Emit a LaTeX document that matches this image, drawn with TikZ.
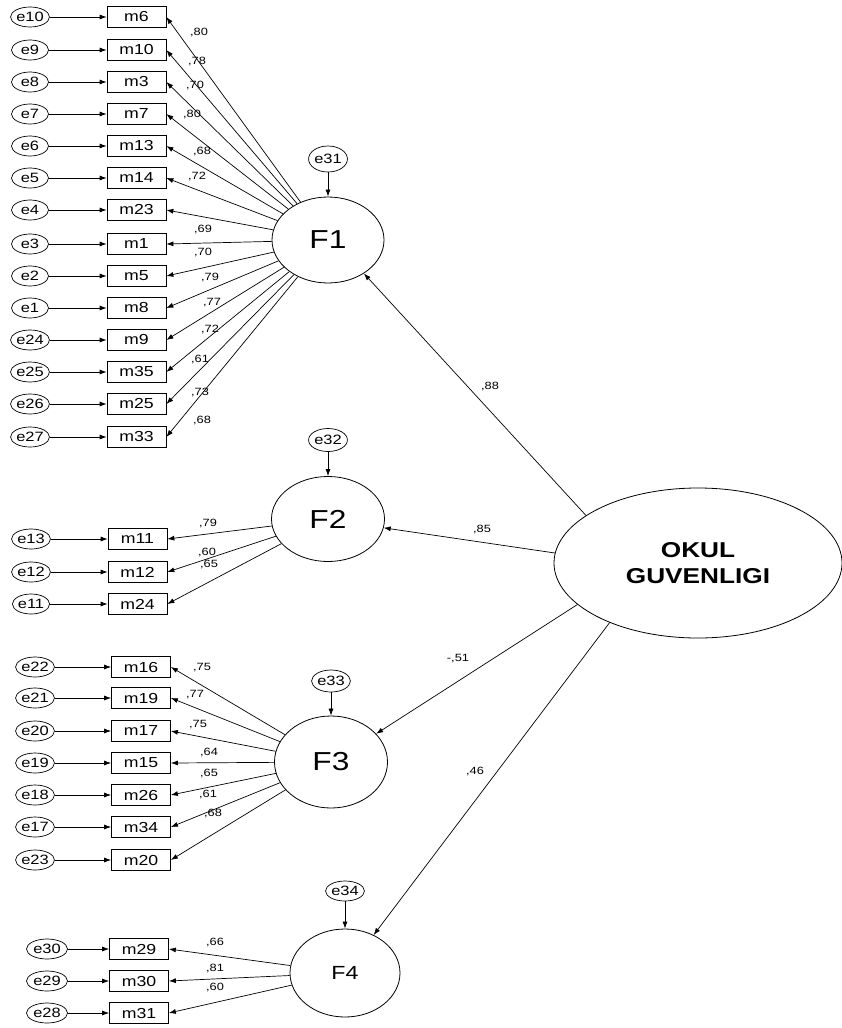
\documentclass[tikz,border=0pt]{standalone}
\usepackage{fontspec}
\setmainfont{Liberation Sans}[FakeStretch=1.22]
\usetikzlibrary{arrows.meta,shapes.geometric}

\begin{document}
\begin{tikzpicture}[x=1pt,y=-1pt,
		arr/.style={-{Latex[length=7pt,width=5pt]}, line width=0.7pt},
		err/.style={draw, ellipse, line width=0.7pt, minimum width=37pt, minimum height=20pt, inner sep=0pt, font=\fontsize{13.5}{15}\selectfont},
		obs/.style={draw, rectangle, line width=0.7pt, minimum width=59pt, minimum height=21pt, inner sep=0pt, font=\fontsize{14.5}{16}\selectfont},
		lat/.style={draw, ellipse, line width=0.8pt, inner sep=0pt, font=\fontsize{26}{30}\selectfont},
		coef/.style={inner sep=0pt, font=\fontsize{10.5}{12}\selectfont}]
	\useasboundingbox (0,0) rectangle (842,1028);
	% latent factors
	\node[lat, minimum width=112pt, minimum height=86pt] (F1) at (328,240) {F1};
	\node[lat, minimum width=113pt, minimum height=85pt] (F2) at (328,519) {F2};
	\node[lat, minimum width=113pt, minimum height=92pt] (F3) at (331,762) {F3};
	\node[lat, minimum width=110pt, minimum height=88pt, font=\fontsize{19}{22}\selectfont] (F4) at (345,973) {F4};
	\node[lat, minimum width=288pt, minimum height=150pt, align=center, font=\bfseries\fontsize{21.5}{26}\selectfont] (OK) at (698,563) {OKUL\\GUVENLIGI};
	% disturbances
	\node[err, minimum width=35pt, minimum height=26pt] (e31) at (328,159) {e31};
	\node[err, minimum width=35pt, minimum height=23pt] (e32) at (328,440) {e32};
	\node[err, minimum height=22pt] (e33) at (331,681) {e33};
	\node[err, minimum height=20pt] (e34) at (345,891) {e34};
	\draw[arr] (e31) -- (F1);
	\draw[arr] (e32) -- (F2);
	\draw[arr] (e33) -- (F3);
	\draw[arr] (e34) -- (F4);
	% second order paths
	\draw[arr] (OK.157.5) -- (F1.-43);
	\draw[arr] (OK.176) -- (F2.-9);
	\draw[arr] (OK.199) -- (F3.32.5);
	\draw[arr] (OK.214) -- (F4.53);
	\node[coef] (c88) at (490,386) {,88};
	\node[coef] (c85) at (482,529) {,85};
	\node[coef] (c51) at (458,659) {-,51};
	\node[coef] (c46) at (475,771) {,46};
	% F1 items
	\foreach \e/\m/\y/\v/\lx/\ly in {10/6/17/80/199/33, 9/10/50/78/197/62, 8/3/82/70/195/86,
			7/7/114/80/192/115, 6/13/146/68/202/152, 5/14/178/72/197/177, 4/23/210/69/203/230,
			3/1/244/70/203/253, 2/5/276/79/210/278, 1/8/308/77/212/303, 24/9/340/72/210/330,
			25/35/372/61/200/360, 26/25/404/73/200/392, 27/33/437/68/202/420}{
		\node[err] (e\e) at (30,\y) {e\e};
		\node[obs] (m\m) at (136.5,\y) {m\m};
		\draw[arr] (e\e) -- (m\m);
		\draw[arr] (F1) -- (m\m.east);
		\node[coef] (c\m) at (\lx,\ly) {,\v};
	}
	% F2 items
	\foreach \e/\m/\y/\v/\lx/\ly in {13/11/539/79/208/523, 12/12/572/60/207/552, 11/24/604/65/209/564}{
		\node[err] (e\e) at (31,\y) {e\e};
		\node[obs] (m\m) at (137.5,\y) {m\m};
		\draw[arr] (e\e) -- (m\m);
		\draw[arr] (F2) -- (m\m.east);
		\node[coef] (c\m) at (\lx,\ly) {,\v};
	}
	% F3 items
	\foreach \e/\m/\y/\v/\lx/\ly in {22/16/667/75/202/668, 21/19/698/77/195/695, 20/17/731/75/198/725,
			19/15/763/64/209/752, 18/26/795/65/209/773, 17/34/827/61/208/794, 23/20/860/68/213/813}{
		\node[err] (e\e) at (35,\y) {e\e};
		\node[obs] (m\m) at (141,\y) {m\m};
		\draw[arr] (e\e) -- (m\m);
		\draw[arr] (F3) -- (m\m.east);
		\node[coef] (c\m) at (\lx,\ly) {,\v};
	}
	% F4 items
	\foreach \e/\m/\y/\v/\lx/\ly in {30/29/949/66/215/942, 29/30/981/81/215/968, 28/31/1013/60/215/987}{
		\node[err, minimum width=41pt, minimum height=20pt] (e\e) at (47,\y) {e\e};
		\node[obs] (m\m) at (139,\y) {m\m};
		\draw[arr] (e\e) -- (m\m);
		\draw[arr] (F4) -- (m\m.east);
		\node[coef] (c\m) at (\lx,\ly) {,\v};
	}
\end{tikzpicture}
\end{document}
